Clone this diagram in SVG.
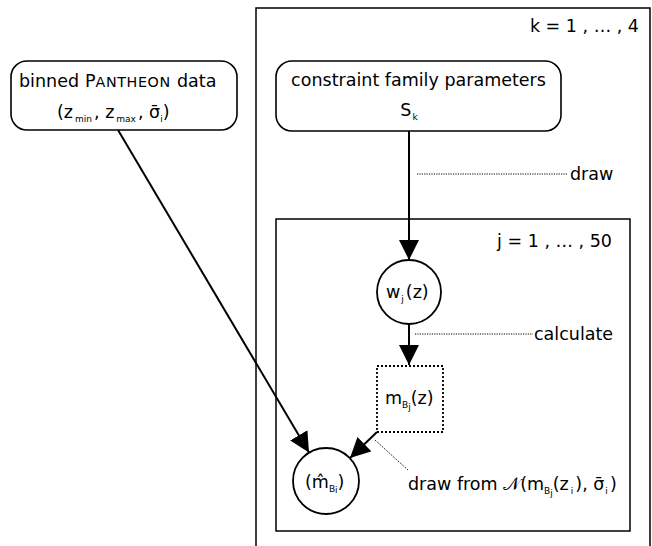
<svg xmlns="http://www.w3.org/2000/svg" width="652" height="546" viewBox="0 0 652 546">
<style>
text{font-family:"DejaVu Sans","Liberation Sans",sans-serif;font-size:17.5px;fill:#000}
.sub{font-size:9px}
.plate{fill:none;stroke:#000;stroke-width:1.5}
.box{fill:#fff;stroke:#000;stroke-width:1.6}
.node{fill:#fff;stroke:#000;stroke-width:1.8}
.dsq{fill:#fff;stroke:#000;stroke-width:1.8;stroke-dasharray:2,2}
.edge{fill:none;stroke:#000;stroke-width:2}
.dot{fill:none;stroke:#000;stroke-width:1;stroke-dasharray:1.2,1.2}
</style>
<defs>
<marker id="ah" viewBox="0 0 20 20" markerWidth="20" markerHeight="20" refX="20" refY="10" orient="auto" markerUnits="userSpaceOnUse">
<path d="M0,0 L20,10 L0,20 Z" fill="#000"/>
</marker>
</defs>
<rect width="652" height="546" fill="#fff"/>
<g id="plate-k">
<path class="plate" d="M256,560 V8 H650 V560"/>
<text x="639" y="32" text-anchor="end">k = 1 , … , 4</text>
</g>
<g id="plate-j">
<rect class="plate" x="276" y="219" width="354" height="312"/>
<text x="612" y="247" text-anchor="end">j = 1 , … , 50</text>
</g>
<g id="connectors">
<line class="edge" x1="118" y1="130" x2="309" y2="452.5" marker-end="url(#ah)"/>
<line class="edge" x1="409" y1="131" x2="409" y2="260" marker-end="url(#ah)"/>
<line class="edge" x1="409" y1="324" x2="409" y2="365" marker-end="url(#ah)"/>
<line class="edge" x1="377" y1="432" x2="350" y2="458" marker-end="url(#ah)"/>
<line class="dot" x1="417" y1="174" x2="568" y2="174"/>
<text x="570" y="180">draw</text>
<line class="dot" x1="415" y1="334" x2="533" y2="334"/>
<text x="534" y="340">calculate</text>
<line class="dot" x1="375" y1="440" x2="408" y2="470"/>
<text x="408" y="490">draw from 𝒩(m<tspan class="sub" dy="4">B</tspan><tspan class="sub" font-size="7" dy="2">j</tspan><tspan dy="-6">(z</tspan><tspan class="sub" dx="2" dy="4">i</tspan><tspan dx="2" dy="-4">), σ̄</tspan><tspan class="sub" dx="1" dy="4">i</tspan><tspan dx="2" dy="-4">)</tspan></text>
</g>
<g id="pantheon">
<rect class="box" x="11" y="61" width="226" height="69" rx="16"/>
<text y="87" font-size="16.7">
<tspan x="19">binned</tspan>
<tspan x="85">P</tspan><tspan font-size="14.3" letter-spacing="0.6">ANTHEON</tspan>
<tspan x="177">data</tspan></text>
<text x="57" y="118">(z<tspan class="sub" dx="2" dy="4">min</tspan><tspan dx="2" dy="-4">, z</tspan><tspan class="sub" dx="2" dy="4">max</tspan><tspan dx="2" dy="-4">, σ̄</tspan><tspan class="sub" dy="4">i</tspan><tspan dy="-4">)</tspan></text>
</g>
<g id="family">
<rect class="box" x="276" y="61" width="285" height="70" rx="16"/>
<text x="418.5" y="86" text-anchor="middle">constraint family parameters</text>
<text x="409" y="116" text-anchor="middle">S<tspan class="sub" dx="1" dy="4">k</tspan></text>
</g>
<g id="w">
<circle class="node" cx="409" cy="292" r="32"/>
<text x="386" y="298">w<tspan class="sub" dx="1" dy="4">j</tspan><tspan dx="2" dy="-4">(z)</tspan></text>
</g>
<g id="m">
<rect class="dsq" x="377" y="366" width="66" height="66"/>
<text x="385" y="404">m<tspan class="sub" dy="4">B</tspan><tspan class="sub" font-size="7" dy="2">j</tspan><tspan dy="-6">(z)</tspan></text>
</g>
<g id="mhat">
<circle class="node" cx="326" cy="481" r="33"/>
<text x="305" y="488">(m̂<tspan class="sub" dy="4">B</tspan><tspan class="sub" font-size="7" dy="1">i</tspan><tspan dy="-5">)</tspan></text>
</g>
</svg>
